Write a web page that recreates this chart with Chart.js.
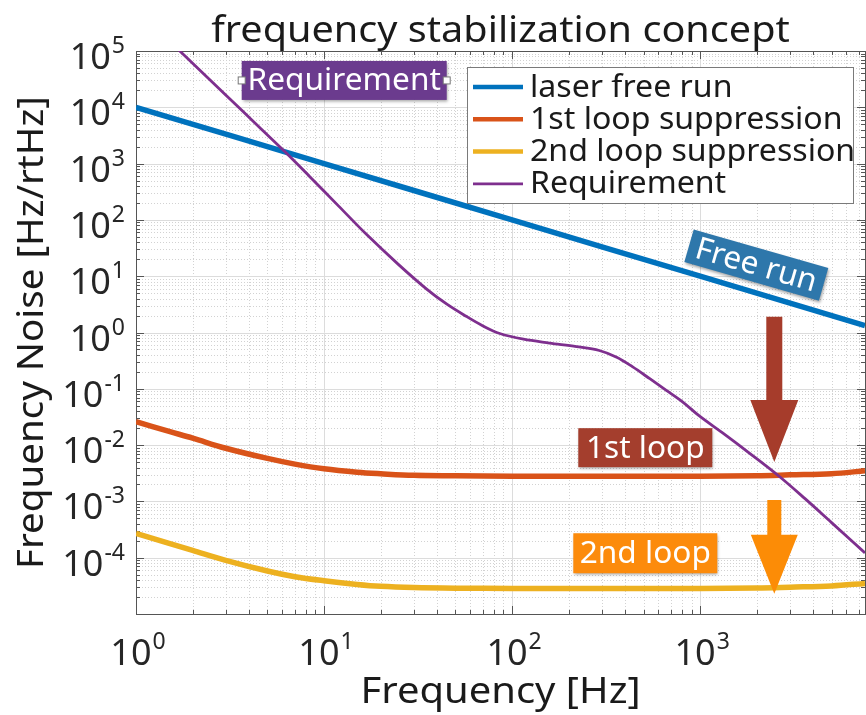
<!DOCTYPE html>
<html>
<head>
<meta charset="utf-8">
<title>frequency stabilization concept</title>
<script src="https://cdn.jsdelivr.net/npm/chart.js@4.4.1/dist/chart.umd.min.js"></script>
<style>
  html, body { margin: 0; padding: 0; background: #fff; }
  #wrap { width: 866px; height: 715px; }
</style>
</head>
<body>
<div id="wrap"><canvas id="noiseChart" width="866" height="715"></canvas></div>
<script>
const FONT = '"Noto Sans", "DejaVu Sans", sans-serif';

// axis ranges [Hz] and [Hz/rtHz]
const freqRange = [1, 7530];
const noiseRange = [1e-5, 1e5];

// decades that get a 10^n label
const xTickExponents = [0, 1, 2, 3];
const yTickExponents = [5, 4, 3, 2, 1, 0, -1, -2, -3, -4];

const freeRunFreq = [1, 10, 100, 1000, 7530];
const freeRunNoise = [1.0e4, 1.0e3, 1.0e2, 10, 1.33];

const loopFreq = [1, 1.5, 2, 3, 5, 7, 10, 15, 20, 30, 50, 100, 200, 500, 1000, 2000, 3000, 5000, 7530];
const firstLoopNoise = [0.026, 0.0175, 0.0133, 0.0088, 0.0058, 0.0046, 0.0038, 0.0033, 0.0031, 0.0029,
    0.00285, 0.0028, 0.0028, 0.0028, 0.0028, 0.00286, 0.00296, 0.0031, 0.0035];
const secondLoopNoise = [2.7e-4, 1.8e-4, 1.35e-4, 9.0e-5, 5.8e-5, 4.6e-5, 3.9e-5, 3.35e-5, 3.1e-5, 2.95e-5,
    2.88e-5, 2.85e-5, 2.85e-5, 2.85e-5, 2.85e-5, 2.9e-5, 3.0e-5, 3.15e-5, 3.5e-5];

const reqFreq = [1, 1.71, 3, 4.5, 6.2, 8.4, 12, 16.8, 25, 35, 45, 57, 70, 86, 115, 158, 220, 291, 360, 436,
    540, 658, 800, 990, 1350, 1820, 2630, 3600, 5000, 7530];
const reqNoise = [5.57e5, 1.0e5, 1.66e4, 4.52e3, 1620, 586, 174, 55.4, 15.9, 5.97, 3.18, 1.94, 1.31, 0.96, 0.76,
    0.65, 0.562, 0.479, 0.363, 0.247, 0.151, 0.095, 0.06, 0.033, 0.0155, 0.0073, 0.0028, 0.00113, 0.00042, 0.000122];

// text callouts, placed in data coordinates
const callouts = [
    { text: "Requirement", f: 12.8, v: 3.0e4, w: 205, h: 39, color: "#6b3b8e", handles: true },
    { text: "Free run", f: 1990, v: 15.8, w: 140, h: 34, color: "#2e77ab", angle: 16 },
    { text: "1st loop", f: 511, v: 9.0e-3, w: 134, h: 39, color: "#a43e2d" },
    { text: "2nd loop", f: 511, v: 1.2e-4, w: 144, h: 40, color: "#fc8b0c" },
];

const arrows = [
    { f: 2480, from: 1.9, to: 5.0e-3, shaft: 16, head: 48, headLen: 62, color: "#a63c2b" },
    { f: 2480, from: 1.06e-3, to: 2.3e-5, shaft: 14, head: 47, headLen: 59, color: "#fc8c06" },
];

function toPoints(xs, ys) {
    return xs.map((x, i) => ({ x: x, y: ys[i] }));
}

function minorValues(min, max) {
    const out = [];
    for (let d = Math.floor(Math.log10(min)); d <= Math.ceil(Math.log10(max)); d++) {
        for (let k = 2; k <= 9; k++) {
            const v = k * Math.pow(10, d);
            if (v > min && v < max) out.push(v);
        }
    }
    return out;
}

function majorValues(min, max) {
    const out = [];
    for (let d = Math.ceil(Math.log10(min)); d <= Math.floor(Math.log10(max)); d++) out.push(Math.pow(10, d));
    return out;
}

function line(ctx, x1, y1, x2, y2) {
    ctx.beginPath();
    ctx.moveTo(x1, y1);
    ctx.lineTo(x2, y2);
    ctx.stroke();
}

// the figure font runs wider than Noto Sans, so stretch text a little
function wideText(ctx, text, x, y, sx) {
    ctx.save();
    ctx.translate(x, y);
    ctx.scale(sx, 1);
    ctx.fillText(text, 0, 0);
    ctx.restore();
}

function drawPower(ctx, exp, x, y, align) {
    ctx.font = `36px ${FONT}`;
    const wb = ctx.measureText("10").width;
    ctx.font = `23px ${FONT}`;
    const ws = ctx.measureText(String(exp)).width;
    const total = wb + ws + 1;
    const left = align === "right" ? x - total : x - total / 2;
    ctx.textAlign = "left";
    ctx.textBaseline = "alphabetic";
    ctx.font = `36px ${FONT}`;
    ctx.fillText("10", left, y);
    ctx.font = `23px ${FONT}`;
    ctx.fillText(String(exp), left + wb + 1, y - 16);
}

const gridPlugin = {
    id: "matlabGrid",
    beforeDatasetsDraw(chart) {
        const { ctx, chartArea: a, scales: { x, y } } = chart;
        ctx.save();
        ctx.lineWidth = 1;

        ctx.strokeStyle = "#d2d2d2";
        ctx.setLineDash([1, 2]);
        minorValues(freqRange[0], freqRange[1]).forEach((v) => {
            const px = Math.round(x.getPixelForValue(v)) + 0.5;
            line(ctx, px, a.top, px, a.bottom);
        });
        minorValues(noiseRange[0], noiseRange[1]).forEach((v) => {
            const py = Math.round(y.getPixelForValue(v)) + 0.5;
            line(ctx, a.left, py, a.right, py);
        });

        ctx.strokeStyle = "#dcdcdc";
        ctx.setLineDash([]);
        majorValues(freqRange[0], freqRange[1]).forEach((v) => {
            const px = Math.round(x.getPixelForValue(v)) + 0.5;
            line(ctx, px, a.top, px, a.bottom);
        });
        majorValues(noiseRange[0], noiseRange[1]).forEach((v) => {
            const py = Math.round(y.getPixelForValue(v)) + 0.5;
            line(ctx, a.left, py, a.right, py);
        });

        // box and inward ticks
        ctx.strokeStyle = "#555";
        ctx.strokeRect(a.left + 0.5, a.top + 0.5, a.right - a.left, a.bottom - a.top);
        const tickX = (vals, len) => {
            vals.forEach((v) => {
                const px = Math.round(x.getPixelForValue(v)) + 0.5;
                line(ctx, px, a.bottom, px, a.bottom - len);
                line(ctx, px, a.top, px, a.top + len);
            });
        };
        const tickY = (vals, len) => {
            vals.forEach((v) => {
                const py = Math.round(y.getPixelForValue(v)) + 0.5;
                line(ctx, a.left, py, a.left + len, py);
                line(ctx, a.right, py, a.right - len, py);
            });
        };
        tickX(minorValues(freqRange[0], freqRange[1]), 4);
        tickX(majorValues(freqRange[0], freqRange[1]), 8);
        tickY(minorValues(noiseRange[0], noiseRange[1]), 4);
        tickY(majorValues(noiseRange[0], noiseRange[1]), 8);

        // tick labels
        ctx.fillStyle = "#262626";
        xTickExponents.forEach((e) => {
            drawPower(ctx, e, x.getPixelForValue(Math.pow(10, e)) + 2, a.bottom + 51, "center");
        });
        yTickExponents.forEach((e) => {
            drawPower(ctx, e, a.left - 11, y.getPixelForValue(Math.pow(10, e)) + 18, "right");
        });

        // title and axis labels
        const midX = (a.left + a.right) / 2;
        ctx.fillStyle = "#1a1a1a";
        ctx.textAlign = "center";
        ctx.font = `36px ${FONT}`;
        wideText(ctx, "frequency stabilization concept", midX, 42, 1.1);
        wideText(ctx, "Frequency [Hz]", midX, 703, 1.11);
        ctx.save();
        ctx.translate(43, (a.top + a.bottom) / 2);
        ctx.rotate(-Math.PI / 2);
        ctx.font = `37px ${FONT}`;
        wideText(ctx, "Frequency Noise [Hz/rtHz]", 0, 0, 1.04);
        ctx.restore();

        ctx.restore();
    },
    afterDatasetsDraw(chart) {
        const { ctx, chartArea: a, scales: { x, y } } = chart;
        ctx.save();

        arrows.forEach((ar) => {
            const cx = x.getPixelForValue(ar.f);
            const top = y.getPixelForValue(ar.from);
            const tip = y.getPixelForValue(ar.to);
            const base = tip - ar.headLen;
            ctx.fillStyle = ar.color;
            ctx.beginPath();
            ctx.moveTo(cx - ar.shaft / 2, top);
            ctx.lineTo(cx + ar.shaft / 2, top);
            ctx.lineTo(cx + ar.shaft / 2, base);
            ctx.lineTo(cx + ar.head / 2, base);
            ctx.lineTo(cx, tip);
            ctx.lineTo(cx - ar.head / 2, base);
            ctx.lineTo(cx - ar.shaft / 2, base);
            ctx.closePath();
            ctx.fill();
        });

        callouts.forEach((c) => {
            const cx = x.getPixelForValue(c.f);
            const cy = y.getPixelForValue(c.v);
            ctx.save();
            ctx.translate(cx, cy);
            if (c.angle) ctx.rotate((c.angle * Math.PI) / 180);
            ctx.shadowColor = "rgba(0,0,0,0.35)";
            ctx.shadowBlur = 3;
            ctx.shadowOffsetX = 1;
            ctx.shadowOffsetY = 2;
            ctx.fillStyle = c.color;
            ctx.fillRect(-c.w / 2, -c.h / 2, c.w, c.h);
            ctx.shadowColor = "transparent";
            ctx.fillStyle = "#fff";
            ctx.font = `31px ${FONT}`;
            ctx.textAlign = "center";
            ctx.textBaseline = "middle";
            wideText(ctx, c.text, 0, 1, 1.02);
            if (c.handles) {
                ctx.strokeStyle = "#777";
                ctx.lineWidth = 1;
                [-c.w / 2, c.w / 2].forEach((hx) => {
                    ctx.fillRect(hx - 3.5, -3.5, 7, 7);
                    ctx.strokeRect(hx - 3.5, -3.5, 7, 7);
                });
            }
            ctx.restore();
        });

        // legend box in the upper right of the axes
        const lx = a.right - 398, ly = a.top + 16, lw = 386, lh = 136;
        ctx.fillStyle = "#fff";
        ctx.fillRect(lx, ly, lw, lh);
        ctx.strokeStyle = "#7a7a7a";
        ctx.lineWidth = 1;
        ctx.strokeRect(lx + 0.5, ly + 0.5, lw, lh);
        ctx.font = `30px ${FONT}`;
        ctx.textAlign = "left";
        ctx.textBaseline = "middle";
        chart.data.datasets.forEach((ds, i) => {
            const ry = ly + 20 + i * 32.3;
            ctx.strokeStyle = ds.borderColor;
            ctx.lineWidth = Math.min(ds.borderWidth, 4.5);
            line(ctx, lx + 6, ry, lx + 56, ry);
            ctx.fillStyle = "#1a1a1a";
            wideText(ctx, ds.label, lx + 63, ry + 1, 1.07);
        });

        ctx.restore();
    },
};

function initChart() {
    const ctx = document.getElementById("noiseChart").getContext("2d");
    const series = [
        { label: "laser free run", data: toPoints(freeRunFreq, freeRunNoise), color: "#0072bd", width: 5.5 },
        { label: "1st loop suppression", data: toPoints(loopFreq, firstLoopNoise), color: "#d95319", width: 5.5 },
        { label: "2nd loop suppression", data: toPoints(loopFreq, secondLoopNoise), color: "#edb120", width: 5.5 },
        { label: "Requirement", data: toPoints(reqFreq, reqNoise), color: "#7e2f8e", width: 2.8 },
    ];

    new Chart(ctx, {
        type: "line",
        data: {
            datasets: series.map((s, i) => ({
                label: s.label,
                data: s.data,
                borderColor: s.color,
                backgroundColor: s.color,
                borderWidth: s.width,
                pointRadius: 0,
                fill: false,
                tension: 0.35,
                order: series.length - i,
            })),
        },
        options: {
            responsive: false,
            animation: false,
            devicePixelRatio: 1,
            layout: { padding: { top: 51, right: 1, left: 0, bottom: 0 } },
            scales: {
                x: {
                    type: "logarithmic",
                    min: freqRange[0],
                    max: freqRange[1],
                    grid: { display: false },
                    border: { display: false },
                    ticks: { display: false },
                    afterFit: (s) => { s.height = 101; },
                },
                y: {
                    type: "logarithmic",
                    min: noiseRange[0],
                    max: noiseRange[1],
                    grid: { display: false },
                    border: { display: false },
                    ticks: { display: false },
                    afterFit: (s) => { s.width = 136; },
                },
            },
            plugins: {
                legend: { display: false },
                tooltip: { enabled: false },
            },
        },
        plugins: [gridPlugin],
    });
}

document.addEventListener("DOMContentLoaded", () => {
    initChart();
});
</script>
</body>
</html>
